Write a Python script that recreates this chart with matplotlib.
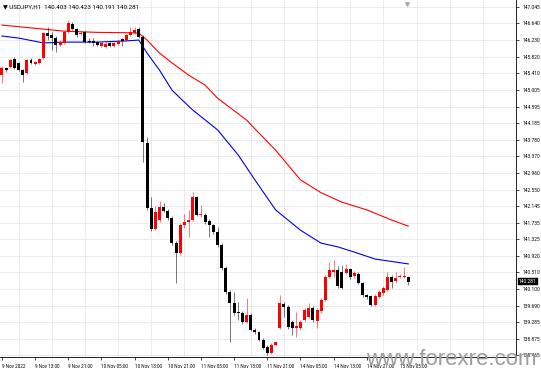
import matplotlib
matplotlib.use("Agg")
import matplotlib.pyplot as plt
import matplotlib.transforms as mtransforms

# ---------------- data ----------------
symbol = "USDJPY,H1"
last_ohlc = ["140.403", "140.423", "140.191", "140.281"]
last_price = 140.281

time_labels = ["9 Nov 2022", "9 Nov 13:00", "9 Nov 21:00", "10 Nov 05:00",
               "10 Nov 13:00", "10 Nov 21:00", "11 Nov 05:00", "11 Nov 13:00",
               "11 Nov 21:00", "14 Nov 05:00", "14 Nov 13:00", "14 Nov 21:00",
               "15 Nov 05:00"]

price_ticks = [147.045, 146.640, 146.230, 145.820, 145.410, 145.005, 144.595,
               144.185, 143.780, 143.370, 142.960, 142.550, 142.145, 141.735,
               141.325, 140.920, 140.510, 140.100, 139.690, 139.285, 138.875,
               138.465]
price_labels = ["147.045", "146.640", "146.230", "145.820", "145.410", "145.005",
                "144.595", "144.185", "143.780", "143.370", "142.960", "142.550",
                "142.145", "141.735", "141.325", "140.920", "140.510", "140.100",
                "139.690", "139.285", "138.875", "138.465"]

opens = [145.37, 145.54, 145.57, 145.76, 145.67, 145.49, 145.42, 145.74, 145.64, 145.67,
         145.79, 146.40, 146.36, 146.28, 146.11, 146.16, 146.43, 146.63, 146.50, 146.38,
         146.43, 146.21, 146.21, 146.18, 146.08, 146.06, 146.16, 146.08, 146.13, 146.26,
         146.23, 146.36, 146.40, 146.50, 146.31, 143.70, 142.10, 141.58, 141.80, 142.12,
         142.02, 141.85, 141.23, 140.99, 141.68, 141.75, 141.80, 142.37, 141.92, 141.92,
         141.78, 141.68, 141.51, 141.19, 140.62, 140.03, 139.76, 139.54, 139.51, 139.29,
         139.46, 139.09, 139.04, 138.85, 138.67, 138.53, 138.72, 139.14, 139.73, 139.66,
         139.29, 139.14, 139.14, 139.34, 139.41, 139.63, 139.31, 139.56, 139.83, 140.40,
         140.52, 140.57, 140.52, 140.50, 140.59, 140.42, 140.47, 140.25, 139.95, 139.93,
         139.71, 139.91, 140.00, 140.08, 140.40, 140.30, 140.40, 140.40, 140.403]
highs = [145.59, 145.57, 145.76, 145.81, 145.69, 145.52, 145.76, 145.79, 145.72, 145.79,
         146.43, 146.55, 146.43, 146.33, 146.23, 146.45, 146.72, 146.68, 146.53, 146.45,
         146.45, 146.28, 146.28, 146.21, 146.18, 146.18, 146.18, 146.18, 146.23, 146.28,
         146.38, 146.55, 146.55, 146.55, 146.36, 143.84, 142.37, 142.15, 142.27, 142.22,
         142.07, 141.90, 141.28, 141.73, 141.95, 142.05, 142.49, 142.39, 142.17, 141.97,
         141.83, 141.70, 141.63, 141.23, 140.67, 140.08, 140.03, 139.78, 139.56, 139.88,
         139.51, 139.14, 139.07, 138.90, 138.72, 138.77, 138.82, 139.95, 139.78, 139.71,
         139.34, 139.54, 139.34, 139.63, 139.76, 139.68, 139.63, 139.88, 140.45, 140.77,
         140.82, 140.67, 140.69, 140.72, 140.62, 140.55, 140.52, 140.27, 139.98, 139.95,
         139.98, 140.08, 140.18, 140.52, 140.45, 140.52, 140.47, 140.64, 140.423]
lows = [145.17, 145.44, 145.54, 145.52, 145.47, 145.20, 145.40, 145.64, 145.62, 145.64,
        145.76, 146.23, 145.99, 145.94, 146.08, 146.13, 146.40, 146.48, 146.31, 146.36,
        146.16, 146.16, 146.08, 146.08, 146.06, 146.04, 146.06, 146.06, 146.11, 146.08,
        146.21, 146.33, 146.38, 146.28, 143.23, 142.05, 141.53, 141.55, 141.75, 142.00,
        141.80, 141.19, 140.25, 140.94, 141.60, 141.38, 141.78, 141.90, 141.87, 141.70,
        141.38, 141.46, 141.14, 140.57, 139.98, 138.80, 139.46, 139.34, 139.24, 139.27,
        139.07, 138.99, 138.82, 138.62, 138.48, 138.50, 138.70, 139.12, 139.41, 139.12,
        138.97, 138.92, 139.09, 139.31, 139.39, 139.29, 139.14, 139.51, 139.81, 140.37,
        140.40, 140.13, 140.10, 140.47, 140.35, 140.37, 140.23, 139.91, 139.86, 139.68,
        139.68, 139.88, 139.95, 140.05, 140.13, 140.25, 140.37, 140.37, 140.191]
closes = [145.54, 145.49, 145.74, 145.54, 145.49, 145.37, 145.74, 145.67, 145.69, 145.76,
          146.40, 146.33, 146.28, 146.11, 146.18, 146.43, 146.65, 146.50, 146.36, 146.40,
          146.18, 146.18, 146.16, 146.11, 146.16, 146.13, 146.08, 146.16, 146.21, 146.21,
          146.36, 146.43, 146.48, 146.31, 143.72, 142.10, 141.58, 142.00, 142.12, 142.02,
          141.85, 141.23, 140.99, 141.68, 141.75, 141.80, 142.37, 141.92, 141.95, 141.75,
          141.68, 141.51, 141.19, 140.62, 140.03, 139.76, 139.51, 139.51, 139.29, 139.46,
          139.09, 139.04, 138.85, 138.65, 138.53, 138.72, 138.80, 139.76, 139.66, 139.17,
          139.14, 139.19, 139.29, 139.59, 139.63, 139.34, 139.59, 139.83, 140.40, 140.57,
          140.57, 140.18, 140.13, 140.59, 140.40, 140.50, 140.25, 139.95, 139.91, 139.71,
          139.93, 140.03, 140.13, 140.40, 140.27, 140.37, 140.42, 140.42, 140.281]

# moving averages read at selected bars
ma_red_bars = [0, 7, 15, 23, 31, 33, 35, 38, 41, 45, 49, 52, 59, 66, 72, 77, 82, 88, 94, 98]
ma_red = [146.60, 146.53, 146.45, 146.42, 146.41, 146.40, 146.23, 145.91, 145.67, 145.37,
          145.12, 144.80, 144.26, 143.52, 142.79, 142.47, 142.24, 142.05, 141.80, 141.65]
ma_blue_bars = [0, 4, 10, 15, 23, 30, 33, 35, 38, 41, 43, 46, 52, 57, 61, 66, 72, 77, 81, 85, 90, 98]
ma_blue = [146.33, 146.28, 146.16, 146.18, 146.18, 146.21, 146.23, 145.91, 145.49, 145.00,
           144.80, 144.51, 144.02, 143.40, 142.79, 142.05, 141.55, 141.23, 141.14, 141.01,
           140.84, 140.72]

# ---------------- figure ----------------
W, H = 541, 372
fig = plt.figure(figsize=(W / 100, H / 100), dpi=100)
fig.patch.set_facecolor("white")
ax = fig.add_axes([0, 15 / H, 516 / W, 357 / H])
ax.set_facecolor("white")
ax.set_xlim(-0.48, 122.4)
ax.set_ylim(138.428, 147.217)

n = len(opens)
xs = list(range(n))
cols = ["#ff0000" if c >= o else "#000000" for o, c in zip(opens, closes)]
bottoms = [min(o, c) for o, c in zip(opens, closes)]
heights = [max(abs(c - o), 0.022) for o, c in zip(opens, closes)]

ax.plot(ma_red_bars, ma_red, color="#ff0000", lw=0.8, zorder=2)
ax.plot(ma_blue_bars, ma_blue, color="#0000ee", lw=0.8, zorder=2)
ax.vlines(xs, lows, highs, colors=cols, lw=0.5, zorder=3, alpha=0.75)
ax.bar(xs, heights, bottom=bottoms, width=0.72, color=cols, lw=0, zorder=4)

# grid
grid_kw = dict(color="#c4c8cc", linestyle=(0, (1.2, 1.2)), linewidth=0.5)
ax.set_yticks(price_ticks)
ax.set_yticklabels(price_labels)
ax.yaxis.tick_right()
ax.yaxis.grid(True, **grid_kw)
ax.set_xticks([8 * k for k in range(len(time_labels))])
ax.set_xticklabels(time_labels)
ax.set_xticks([4 + 8 * k for k in range(16)], minor=True)
ax.xaxis.grid(True, which="minor", **grid_kw)
ax.xaxis.grid(False, which="major")
ax.tick_params(axis="x", which="minor", length=0)
ax.tick_params(axis="x", which="major", length=2, width=0.5, pad=3,
               labelsize=3.3, colors="black")
ax.tick_params(axis="y", length=2, width=0.5, pad=3, labelsize=3.5)
for lab in ax.get_xticklabels():
    lab.set_ha("left")
    lab.set_family(["Roboto", "DejaVu Sans"])
for lab in ax.get_yticklabels():
    lab.set_family(["Roboto", "DejaVu Sans"])

for s in ["left", "top"]:
    ax.spines[s].set_visible(False)
for s in ["right", "bottom"]:
    ax.spines[s].set_linewidth(0.6)
    ax.spines[s].set_color("black")

# last price box
trans = mtransforms.blended_transform_factory(ax.transAxes, ax.transData)
ax.text(1.006, last_price, last_ohlc[3], transform=trans, ha="left", va="center",
        color="white", fontsize=3.5, family=["Roboto", "DejaVu Sans"], zorder=10,
        clip_on=False,
        bbox=dict(boxstyle="square,pad=0.25", fc="black", ec="black", lw=0.3))

# chart shift marker
trans2 = mtransforms.blended_transform_factory(ax.transData, ax.transAxes)
ax.plot([97.6], [0.99], marker="v", color="#a8a8a8", ms=2.5, transform=trans2,
        clip_on=False, zorder=6)

# title
fig.text(3 / W, 1 - 7 / H, "\u25bc " + symbol + "  " + " ".join(last_ohlc),
         fontsize=4.5, va="center", ha="left", family=["Roboto", "DejaVu Sans"])

# watermark
fig.text(366 / W, 7 / H, "www.forexre.com", fontsize=16, color="#9d9d9d",
         family=["Liberation Sans", "DejaVu Sans"], va="baseline", ha="left", zorder=20)

fig.savefig("out.png", dpi=100)
